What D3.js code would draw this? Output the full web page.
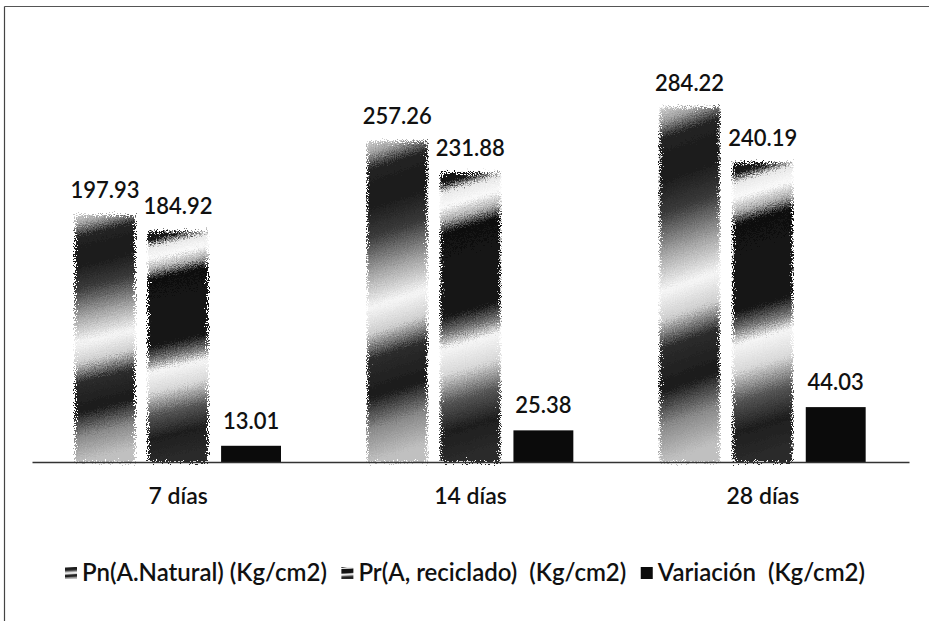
<!DOCTYPE html>
<html><head><meta charset="utf-8">
<script src="https://cdn.jsdelivr.net/npm/d3@7"></script>
<style>
html,body{margin:0;padding:0;background:#fff;}
svg{display:block;}
text{font-family:Lato,"Open Sans",sans-serif;fill:#111;font-weight:600;}
</style></head>
<body>
<script>
const categories = ["7 días", "14 días", "28 días"];
const seriesNames = ["Pn(A.Natural) (Kg/cm2)", "Pr(A, reciclado)  (Kg/cm2)", "Variación  (Kg/cm2)"];
const pnValues = [197.93, 257.26, 284.22];
const prValues = [184.92, 231.88, 240.19];
const varValues = [13.01, 25.38, 44.03];
const yDomain = [0, 300];

const W = 929, H = 621;
const svg = d3.select("body").append("svg").attr("width", W).attr("height", H);
const defs = svg.append("defs");

function grad(id, stops, x2, y2) {
  const g = defs.append("linearGradient").attr("id", id)
    .attr("x1", 0).attr("y1", 0).attr("x2", x2).attr("y2", y2);
  stops.forEach(s => g.append("stop").attr("offset", s[0]).attr("stop-color", s[1]));
}
grad("gPn", [[0,"#d0d0d0"],[0.04,"#a0a0a0"],[0.09,"#222"],[0.2,"#1a1a1a"],[0.3,"#3a3a3a"],[0.42,"#a8a8a8"],[0.52,"#f6f6f6"],[0.6,"#cfcfcf"],[0.68,"#2c2c2c"],[0.8,"#1a1a1a"],[0.9,"#8a8a8a"],[1,"#c0c0c0"]], 0.06, 1);
grad("gPr", [[0,"#111"],[0.04,"#1a1a1a"],[0.07,"#e8e8e8"],[0.12,"#fafafa"],[0.17,"#aaa"],[0.21,"#111"],[0.5,"#141414"],[0.56,"#777"],[0.61,"#f6f6f6"],[0.7,"#d8d8d8"],[0.8,"#555"],[0.9,"#1e1e1e"],[1,"#2a2a2a"]], 0.06, 1);
const fills = ["url(#gPn)", "url(#gPr)", "#0b0b0b"];

// speckle filter to mimic scanned texture
const f = defs.append("filter").attr("id","speckle").attr("x","-2%").attr("y","-2%").attr("width","104%").attr("height","104%");
f.append("feTurbulence").attr("type","fractalNoise").attr("baseFrequency",0.9).attr("numOctaves",2).attr("seed",3).attr("result","noise");
f.append("feDisplacementMap").attr("in","SourceGraphic").attr("in2","noise").attr("scale",14)
  .attr("xChannelSelector","R").attr("yChannelSelector","G");

// frame
svg.append("line").attr("x1",4.5).attr("y1",6.5).attr("x2",W).attr("y2",6.5).attr("stroke","#555").attr("stroke-width",1);
svg.append("line").attr("x1",4.5).attr("y1",6.5).attr("x2",4.5).attr("y2",H).attr("stroke","#444").attr("stroke-width",1.2);

const x0 = d3.scaleBand().domain(categories).range([32, 909]).padding(0);
const x1 = d3.scaleBand().domain(seriesNames).range([43, 249]).paddingInner(0.18).paddingOuter(0);
const y = d3.scaleLinear().domain(yDomain).range([462, 88]);

const data = categories.map((c, i) => ({cat: c, vals: [pnValues[i], prValues[i], varValues[i]]}));

const groups = svg.selectAll("g.grp").data(data).join("g").attr("class","grp")
  .attr("transform", d => `translate(${x0(d.cat)},0)`);

groups.selectAll("rect").data(d => d.vals.map((v, k) => ({v, k})))
  .join("rect")
  .attr("x", d => x1(seriesNames[d.k]))
  .attr("y", d => y(d.v))
  .attr("width", x1.bandwidth())
  .attr("height", d => y(0) - y(d.v))
  .attr("fill", d => fills[d.k])
  .attr("filter", d => d.k < 2 ? "url(#speckle)" : null);

groups.selectAll("text.val").data(d => d.vals.map((v, k) => ({v, k})))
  .join("text").attr("class","val")
  .attr("x", d => x1(seriesNames[d.k]) + x1.bandwidth()/2)
  .attr("y", d => y(d.v) - 17)
  .attr("text-anchor","middle")
  .attr("font-size", 22)
  .text(d => d.v.toFixed(2));

// axis
const xAxis = d3.axisBottom(x0).tickSize(0).tickPadding(26);
const ax = svg.append("g").attr("transform", `translate(0,${y(0)})`).call(xAxis);
ax.select(".domain").attr("stroke","#333").attr("stroke-width",1.5);
ax.selectAll("text").attr("font-size", 23).style("font-family","Lato,'Open Sans',sans-serif")
  .style("font-weight","600").attr("fill","#111");

// legend
const leg = svg.append("g");
const items = seriesNames.map((n, k) => {
  const g = leg.append("g");
  g.append("rect").attr("x",0).attr("y",567).attr("width",12).attr("height",12).attr("fill", fills[k]);
  const t = g.append("text").attr("x", 17).attr("y", 581).attr("font-size", 24)
    .style("white-space","pre").text(n);
  return {g, w: 17 + t.node().getComputedTextLength()};
});
const legStart = 65, legEnd = 865;
const total = d3.sum(items, d => d.w);
const gap = (legEnd - legStart - total) / (items.length - 1);
let lx = legStart;
items.forEach(it => { it.g.attr("transform", `translate(${lx},0)`); lx += it.w + gap; });
</script>
</body></html>
